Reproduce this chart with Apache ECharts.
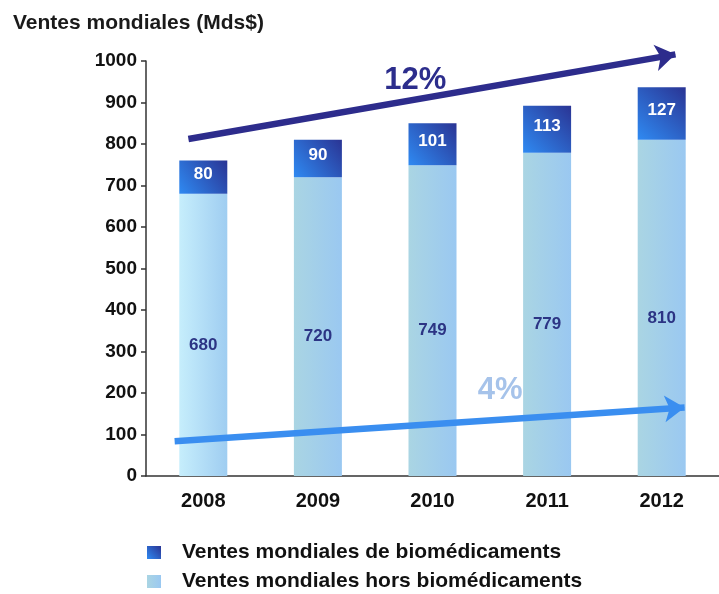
<!DOCTYPE html>
<html>
<head>
<meta charset="utf-8">
<script src="https://cdn.jsdelivr.net/npm/echarts@6/dist/echarts.min.js"></script>
<style>
  html, body { margin: 0; padding: 0; background: #fff; }
  #chart { width: 719px; height: 594px; }
</style>
</head>
<body>
<div id="chart"></div>
<script>
  // data
  var years = ['2008', '2009', '2010', '2011', '2012'];
  var horsBio = [680, 720, 749, 779, 810];
  var bio = [80, 90, 101, 113, 127];
  var yTicks = [0, 1000, 100];           // min, max, interval
  var legendNames = ['Ventes mondiales de biomédicaments', 'Ventes mondiales hors biomédicaments'];
  // trend arrows, in chart units (x = category index)
  var trendNames = ['12%', '4%'];
  var trendStart = [[-0.13, 812], [-0.25, 84]];
  var trendEnd = [[4.12, 1016], [4.2, 165]];
  var trendLabelAt = [[1.85, 954], [2.59, 207]];

  var font = 'Liberation Sans, Arial, sans-serif';
  var chart = echarts.init(document.getElementById('chart'));

  function grad(x, y, x2, y2, c1, c2) {
    return { type: 'linear', x: x, y: y, x2: x2, y2: y2,
      colorStops: [{ offset: 0, color: c1 }, { offset: 1, color: c2 }] };
  }
  var lightFirst = grad(0, 0, 1, 0, '#c6eefc', '#9fcdf1');
  var lightOther = grad(0, 0, 1, 0, '#aad5e3', '#9ac8f1');
  var darkBlue = grad(0, 1, 1, 0, '#2f8af2', '#2a3494');

  var legendBase = {
    left: 142,
    itemWidth: 14, itemHeight: 13,
    icon: 'rect',
    textStyle: { fontSize: 21, fontWeight: 'bold', color: '#111', fontFamily: font, padding: [0, 0, 0, 16] }
  };

  var option = {
    animation: false,
    textStyle: { fontFamily: font },
    title: {
      text: 'Ventes mondiales (Mds$)',
      left: 8, top: 8,
      textStyle: { fontSize: 21, fontWeight: 'bold', color: '#1a1a1a', fontFamily: font }
    },
    legend: [
      Object.assign({}, legendBase, { top: 537, data: [legendNames[0]] }),
      Object.assign({}, legendBase, { top: 566, data: [legendNames[1]] })
    ],
    grid: { left: 146, top: 61, width: 585, height: 415, containLabel: false },
    xAxis: [{
      type: 'category',
      data: years,
      axisLine: { lineStyle: { color: '#333', width: 1.5 } },
      axisTick: { alignWithLabel: false, length: 5, lineStyle: { color: '#333', width: 1.5 } },
      axisLabel: { fontSize: 20, fontWeight: 'bold', color: '#111', margin: 15, fontFamily: font }
    }, {
      type: 'value', min: -0.5, max: 4.5, show: false
    }],
    yAxis: {
      type: 'value',
      min: yTicks[0], max: yTicks[1], interval: yTicks[2],
      splitLine: { show: false },
      axisLine: { show: true, onZero: false, lineStyle: { color: '#333', width: 1.5 } },
      axisTick: { show: true, length: 5, lineStyle: { color: '#333', width: 1.5 } },
      axisLabel: {
        fontSize: 19, fontWeight: 'bold', color: '#111', margin: 9, fontFamily: font,
        formatter: function (v) { return String(v); }
      }
    },
    series: [{
      name: legendNames[1],
      type: 'bar', stack: 'total', barWidth: 48,
      itemStyle: { color: lightOther },
      data: horsBio.map(function (v, i) {
        return { value: v, itemStyle: { color: i === 0 ? lightFirst : lightOther } };
      }),
      label: {
        show: true, position: 'inside', offset: [0, 10],
        fontSize: 17, fontWeight: 'bold', color: '#2c3484', fontFamily: font
      }
    }, {
      name: legendNames[0],
      type: 'bar', stack: 'total', barWidth: 48,
      itemStyle: { color: darkBlue },
      data: bio,
      label: {
        show: true, position: 'inside', offset: [0, -3],
        fontSize: 17, fontWeight: 'bold', color: '#fff', fontFamily: font
      }
    }, {
      type: 'lines',
      coordinateSystem: 'cartesian2d',
      xAxisIndex: 1, yAxisIndex: 0,
      clip: false, z: 5,
      symbol: ['none', 'arrow'],
      symbolSize: 20,
      data: trendNames.map(function (n, i) {
        return {
          name: n,
          coords: [trendStart[i], trendEnd[i]],
          lineStyle: { color: i === 0 ? '#2d2c8c' : '#3a8ef0', width: 6.5, opacity: 1 }
        };
      })
    }, {
      type: 'scatter',
      xAxisIndex: 1, yAxisIndex: 0,
      clip: false, z: 6,
      symbolSize: 0,
      itemStyle: { opacity: 1 },
      data: trendNames.map(function (n, i) {
        return {
          name: n, value: trendLabelAt[i],
          label: { color: i === 0 ? '#2c2d8c' : '#a6c3ea' }
        };
      }),
      label: {
        show: true, position: 'inside',
        formatter: '{b}',
        fontSize: 31, fontWeight: 'bold', fontFamily: font
      }
    }]
  };
  chart.setOption(option);
</script>
</body>
</html>
